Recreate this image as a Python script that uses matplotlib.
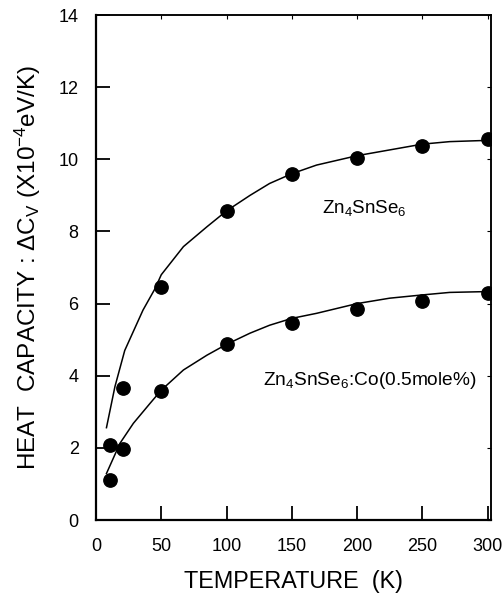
import matplotlib
matplotlib.use("Agg")
import matplotlib.pyplot as plt

plt.rcParams['font.family'] = ['Liberation Sans', 'DejaVu Sans']
plt.rcParams['mathtext.fontset'] = 'custom'
plt.rcParams['mathtext.rm'] = 'Liberation Sans'
plt.rcParams['mathtext.it'] = 'Liberation Sans:italic'
plt.rcParams['mathtext.bf'] = 'Liberation Sans:bold'

# measured points
temp = [11, 21, 50, 100, 150, 200, 250, 300]
cv_pure = [2.08, 3.67, 6.45, 8.57, 9.58, 10.05, 10.37, 10.55]
cv_co = [1.11, 1.97, 3.58, 4.87, 5.47, 5.85, 6.07, 6.28]

# fitted curves
fit_pure_x = [8, 14.5, 22, 36, 45, 50, 67, 85, 100, 118, 133, 150, 169, 200, 225, 250, 271, 296, 303]
fit_pure_y = [2.56, 3.7, 4.7, 5.82, 6.4, 6.8, 7.58, 8.13, 8.57, 9.0, 9.33, 9.6, 9.84, 10.1, 10.26, 10.42, 10.49, 10.52, 10.55]
fit_co_x = [8, 18.4, 28.6, 41.3, 50, 67, 85, 100, 118, 133, 150, 169, 200, 225, 250, 271, 296, 303]
fit_co_y = [1.29, 2.13, 2.68, 3.23, 3.6, 4.16, 4.57, 4.87, 5.18, 5.4, 5.59, 5.73, 6.0, 6.15, 6.24, 6.31, 6.33, 6.33]

x_ticks = [0, 50, 100, 150, 200, 250, 300]
y_ticks = [0, 2, 4, 6, 8, 10, 12, 14]

fig = plt.figure(figsize=(5.03, 6.03), dpi=100)
ax = fig.add_axes([0.1909, 0.1376, 0.977 - 0.1909, 0.9751 - 0.1376])

ax.plot(fit_pure_x, fit_pure_y, color='black', lw=1.1)
ax.plot(fit_co_x, fit_co_y, color='black', lw=1.1)
ax.plot(temp, cv_pure, 'o', color='black', ms=9.6)
ax.plot(temp, cv_co, 'o', color='black', ms=9.6)

ax.set_xlim(0, 303)
ax.set_ylim(0, 14)
ax.set_xticks(x_ticks)
ax.set_yticks(y_ticks)
ax.tick_params(direction='in', length=10, width=1.3, labelsize=13, pad=12.5)
ax.tick_params(axis='x', pad=13)

for s in ['left', 'bottom']:
    ax.spines[s].set_linewidth(1.6)
for s in ['top', 'right']:
    ax.spines[s].set_linewidth(1.1)

sx = ax.secondary_xaxis('top')
sx.set_xticks(x_ticks)
sx.set_xticklabels([])
sx.tick_params(direction='in', length=3, width=0.8)
sx.spines['top'].set_linewidth(1.1)
sy = ax.secondary_yaxis('right')
sy.set_yticks(y_ticks)
sy.set_yticklabels([])
sy.tick_params(direction='in', length=3, width=0.8)
sy.spines['right'].set_linewidth(1.1)

ax.set_xlabel('TEMPERATURE  (K)', fontsize=16.8, labelpad=11)
ax.set_ylabel('HEAT  CAPACITY : ΔC$_\\mathrm{V}$ (X10$^{-4}$eV/K)', fontsize=17.5, labelpad=11)

ax.text(173, 8.65, 'Zn$_4$SnSe$_6$', fontsize=13.5, va='center', ha='left')
ax.text(128, 3.88, 'Zn$_4$SnSe$_6$:Co(0.5mole%)', fontsize=13.8, va='center', ha='left')

fig.savefig('out.png', dpi=100)
